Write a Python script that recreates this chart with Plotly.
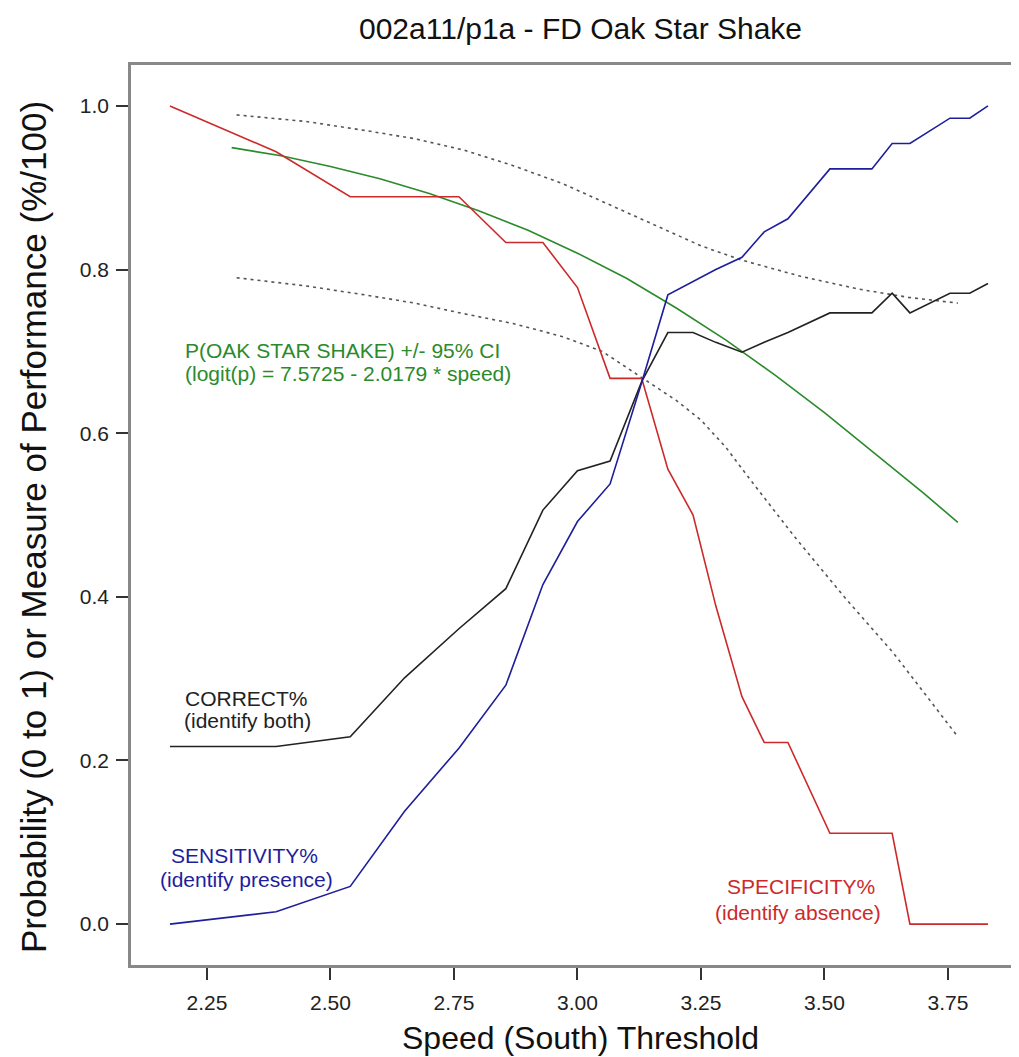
import plotly.graph_objects as go

# ---------------- data ----------------
thresholds = [2.175, 2.39, 2.54, 2.65, 2.76, 2.855, 2.93, 3.0, 3.066, 3.13, 3.183, 3.234,
              3.28, 3.333, 3.378, 3.426, 3.511, 3.596, 3.637, 3.673, 3.754, 3.794, 3.831]
sensitivity = [0.0, 0.015, 0.046, 0.138, 0.215, 0.292, 0.415, 0.492, 0.538, 0.662, 0.769, 0.785,
               0.800, 0.815, 0.846, 0.862, 0.923, 0.923, 0.954, 0.954, 0.985, 0.985, 1.0]
specificity = [1.0, 0.944, 0.889, 0.889, 0.889, 0.833, 0.833, 0.778, 0.667, 0.667, 0.556, 0.5,
               0.389, 0.278, 0.222, 0.222, 0.111, 0.111, 0.111, 0.0, 0.0, 0.0, 0.0]
correct = [0.217, 0.217, 0.229, 0.301, 0.361, 0.410, 0.506, 0.554, 0.566, 0.663, 0.723, 0.723,
           0.711, 0.699, 0.711, 0.723, 0.747, 0.747, 0.771, 0.747, 0.771, 0.771, 0.783]

fit_x = [2.30, 2.40, 2.50, 2.60, 2.70, 2.80, 2.90, 3.00, 3.10, 3.20, 3.30, 3.40, 3.50, 3.60, 3.70, 3.77]
fit_p = [0.949, 0.939, 0.926, 0.911, 0.893, 0.872, 0.848, 0.820, 0.789, 0.753, 0.714, 0.671,
         0.625, 0.576, 0.527, 0.491]

ci_upper_x = [2.31, 2.45, 2.57, 2.67, 2.77, 2.87, 2.97, 3.07, 3.17, 3.25, 3.33, 3.45, 3.57, 3.67, 3.77]
ci_upper = [0.989, 0.981, 0.970, 0.960, 0.946, 0.927, 0.905, 0.878, 0.850, 0.829, 0.812, 0.792,
            0.776, 0.766, 0.759]
ci_lower_x = [2.31, 2.45, 2.57, 2.67, 2.77, 2.87, 2.97, 3.05, 3.13, 3.20, 3.25, 3.30, 3.35, 3.44,
              3.54, 3.64, 3.70, 3.77]
ci_lower = [0.790, 0.780, 0.769, 0.759, 0.746, 0.734, 0.718, 0.700, 0.668, 0.640, 0.616, 0.583,
            0.543, 0.473, 0.400, 0.331, 0.284, 0.229]

x_ticks = [2.25, 2.50, 2.75, 3.00, 3.25, 3.50, 3.75]
x_tick_labels = ["2.25", "2.50", "2.75", "3.00", "3.25", "3.50", "3.75"]
y_ticks = [0.0, 0.2, 0.4, 0.6, 0.8, 1.0]
y_tick_labels = ["0.0", "0.2", "0.4", "0.6", "0.8", "1.0"]

FONT = "Liberation Sans, Arial, Helvetica, sans-serif"
RED = "#cc2a2a"
BLUE = "#1e1e9c"
GREEN = "#2b8a2b"
BLACK = "#222222"
DOT = "#555555"

fig = go.Figure()

fig.add_trace(go.Scatter(x=ci_upper_x, y=ci_upper, mode="lines",
                         line=dict(color=DOT, width=1.6, dash="3px,4px")))
fig.add_trace(go.Scatter(x=ci_lower_x, y=ci_lower, mode="lines",
                         line=dict(color=DOT, width=1.6, dash="3px,4px")))
fig.add_trace(go.Scatter(x=fit_x, y=fit_p, mode="lines", line=dict(color=GREEN, width=1.6)))
fig.add_trace(go.Scatter(x=thresholds, y=specificity, mode="lines", line=dict(color=RED, width=1.6)))
fig.add_trace(go.Scatter(x=thresholds, y=correct, mode="lines", line=dict(color=BLACK, width=1.6)))
fig.add_trace(go.Scatter(x=thresholds, y=sensitivity, mode="lines", line=dict(color=BLUE, width=1.6)))

# page body has an 8px margin; target pixel positions are given in page coordinates
OFF = 8
W, H = 1019 - OFF, 1057 - OFF
ML, MT, MB = 131 - OFF, 65 - OFF, 1057 - 965
PW = W - ML
PH = H - MT - MB


def px_x(p):
    return (p - OFF - ML) / PW


def px_y(p):
    return (H - MB - (p - OFF)) / PH


annotations = []


def label(text, xp, yp, color, size=21, anchor="center"):
    annotations.append(dict(text=text, x=px_x(xp), y=px_y(yp), xref="paper", yref="paper",
                            xanchor=anchor, yanchor="middle", showarrow=False,
                            font=dict(family=FONT, size=size, color=color)))


label("P(OAK STAR SHAKE) +/- 95% CI", 183, 350, GREEN, anchor="left")
label("(logit(p) = 7.5725 - 2.0179 * speed)", 183, 373, GREEN, anchor="left")
label("CORRECT%", 246, 698, BLACK)
label("(identify both)", 247, 720, BLACK)
label("SENSITIVITY%", 244, 855, BLUE)
label("(identify presence)", 246, 879, BLUE)
label("SPECIFICITY%", 801, 886, RED)
label("(identify absence)", 798, 912, RED)

# titles
label("002a11/p1a - FD Oak Star Shake", 580, 29, "#111111", size=30)
label("Speed (South) Threshold", 580, 1038, "#111111", size=32)
annotations.append(dict(text="Probability (0 to 1) or Measure of Performance (%/100)",
                        x=px_x(33), y=px_y(527), xref="paper", yref="paper",
                        xanchor="center", yanchor="middle", showarrow=False, textangle=-90,
                        font=dict(family=FONT, size=35, color="#111111")))

fig.update_layout(
    width=W, height=H,
    margin=dict(l=ML, r=0, t=MT, b=MB),
    paper_bgcolor="white", plot_bgcolor="white",
    showlegend=False,
    annotations=annotations,
    xaxis=dict(range=[2.0962, 3.8938], tickmode="array", tickvals=x_ticks, ticktext=x_tick_labels,
               ticks="outside", ticklen=12, tickwidth=1.5, tickcolor="#333333",
               showline=True, linecolor="#888888", linewidth=2.5, mirror=True,
               showgrid=False, zeroline=False, ticklabelstandoff=5,
               tickfont=dict(family=FONT, size=21, color="#222222")),
    yaxis=dict(range=[-0.05, 1.05], tickmode="array", tickvals=y_ticks, ticktext=y_tick_labels,
               ticks="outside", ticklen=12, tickwidth=1.5, tickcolor="#333333",
               showline=True, linecolor="#888888", linewidth=2.5,
               showgrid=False, zeroline=False, ticklabelstandoff=3,
               tickfont=dict(family=FONT, size=21, color="#222222")),
)

fig.write_html("out.html")
